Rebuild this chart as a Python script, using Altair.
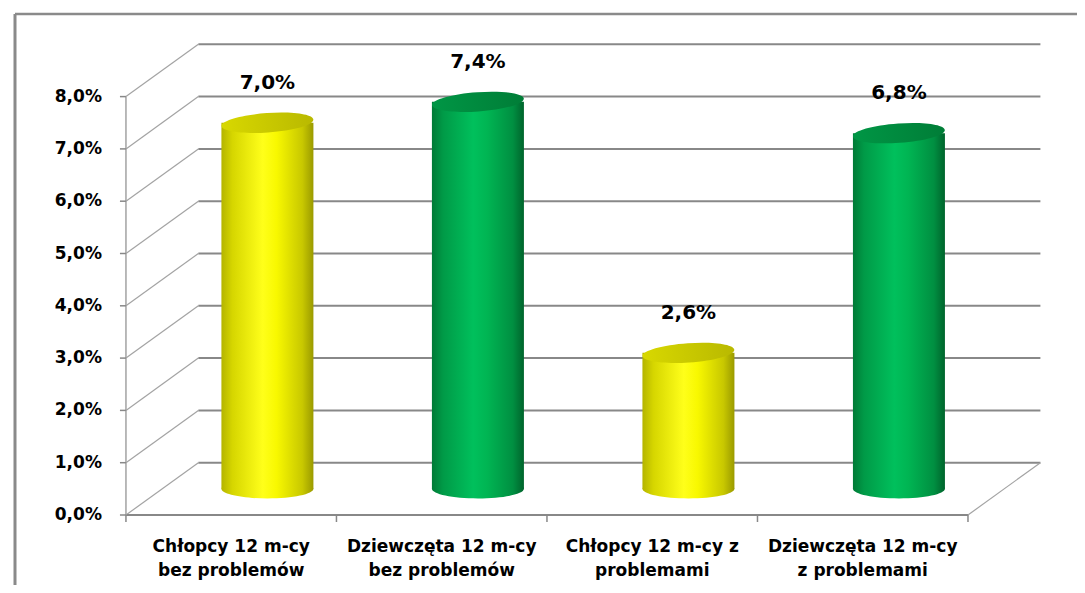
import altair as alt
import pandas as pd

# ---- data ----
label_line1 = ["Chłopcy 12 m-cy", "Dziewczęta 12 m-cy", "Chłopcy 12 m-cy z", "Dziewczęta 12 m-cy"]
label_line2 = ["bez problemów", "bez problemów", "problemami", "z problemami"]
values = [7.0, 7.4, 2.6, 6.8]
value_labels = ["7,0%", "7,4%", "2,6%", "6,8%"]
groups = ["Chłopcy", "Dziewczęta", "Chłopcy", "Dziewczęta"]
tick_values = [0, 1, 2, 3, 4, 5, 6, 7, 8]
tick_labels = ["0,0%", "1,0%", "2,0%", "3,0%", "4,0%", "5,0%", "6,0%", "7,0%", "8,0%"]

# ---- pseudo-3D projection settings ----
PX_PER_CAT = 212.5
PX_PER_PCT = 52.3
DEPTH_X = 0.344   # depth shift, in category units
DEPTH_Y = 1.0     # depth shift, in percent units
W, H = 1067, 571
X_MIN = -112 / PX_PER_CAT
Y_MAX = 501 / PX_PER_PCT
X_DOMAIN = [X_MIN, X_MIN + W / PX_PER_CAT]
Y_DOMAIN = [Y_MAX - H / PX_PER_PCT, Y_MAX]
CYL = 92          # cylinder diameter in px
FONT = "DejaVu Sans"

n = len(values)
ymax_tick = tick_values[-1]

xs = alt.Scale(domain=X_DOMAIN, nice=False, zero=False)
ys = alt.Scale(domain=Y_DOMAIN, nice=False, zero=False)


def X(f):
    return alt.X(f"{f}:Q", scale=xs, axis=None)


def Y(f):
    return alt.Y(f"{f}:Q", scale=ys, axis=None)


cats = pd.DataFrame({
    "i": list(range(n)),
    "value": values,
    "vlabel": value_labels,
    "group": groups,
    "xlabel": [a + "\n" + b for a, b in zip(label_line1, label_line2)],
})
cats["mid"] = cats["i"] + 0.5
cats["center"] = cats["mid"] + DEPTH_X / 2
cats["base"] = DEPTH_Y / 2
cats["top"] = cats["value"] + DEPTH_Y / 2
cats["zero"] = 0.0

ticks = pd.DataFrame({"t": tick_values, "label": tick_labels})
ticks["x0"] = 0.0
ticks["xb"] = DEPTH_X
ticks["tb"] = ticks["t"] + DEPTH_Y
ticks["xe"] = n + DEPTH_X

bounds = pd.DataFrame({"b": list(range(n + 1)), "y0": 0.0})

segs = pd.DataFrame({
    "x": [0, n, 0],
    "y": [0, 0, 0],
    "x2": [n, n + DEPTH_X, 0],
    "y2": [0, DEPTH_Y, ymax_tick],
    "kind": ["front", "floor", "yaxis"],
})

frame_top = pd.DataFrame({"x": [X_DOMAIN[0]], "x2": [X_DOMAIN[1]], "y": [Y_DOMAIN[1]]})
frame_left = pd.DataFrame({"x": [X_DOMAIN[0]], "y": [Y_DOMAIN[0]], "y2": [Y_DOMAIN[1]]})

ELLIPSE = "M-1,0A1,0.21,0,1,1,1,0A1,0.21,0,1,1,-1,0Z"


def grad(stops):
    return alt.Gradient(
        gradient="linear", x1=0, x2=1, y1=0, y2=0,
        stops=[alt.GradientStop(offset=o, color=c) for o, c in stops],
    )


body = {
    "Chłopcy": grad([(0, "#b4b400"), (0.12, "#d6d600"), (0.45, "#ffff1a"), (0.6, "#f8f800"), (0.88, "#c8c800"), (1, "#9a9a00")]),
    "Dziewczęta": grad([(0, "#007a36"), (0.12, "#009a47"), (0.45, "#00c05c"), (0.6, "#00b553"), (0.88, "#008f41"), (1, "#00642c")]),
}
topc = {
    "Chłopcy": grad([(0, "#d8d800"), (1, "#b9b900")]),
    "Dziewczęta": grad([(0, "#009645"), (1, "#007d37")]),
}

base = alt.Chart(cats)
layers = []

# frame (top and left border of the chart area)
layers.append(alt.Chart(frame_top).mark_rule(color="#8a8a8a", strokeWidth=2.5, x2Offset=12).encode(
    x=X("x"), y=Y("y"), x2="x2:Q", y2="y:Q"))
layers.append(alt.Chart(frame_left).mark_rule(color="#8a8a8a", strokeWidth=3).encode(
    x=X("x"), y=Y("y"), x2="x:Q", y2="y2:Q"))

# side wall diagonals
layers.append(alt.Chart(ticks).mark_rule(color="#a3a3a3", strokeWidth=1.2).encode(
    x=X("x0"), y=Y("t"), x2="xb:Q", y2="tb:Q"))
# back wall gridlines
layers.append(alt.Chart(ticks).mark_rule(color="#888888", strokeWidth=2).encode(
    x=X("xb"), y=Y("tb"), x2="xe:Q", y2="tb:Q"))
# floor / axes
layers.append(alt.Chart(segs).transform_filter(alt.datum.kind == "floor").mark_rule(
    color="#a3a3a3", strokeWidth=1.2).encode(x=X("x"), y=Y("y"), x2="x2:Q", y2="y2:Q"))
layers.append(alt.Chart(segs).transform_filter(alt.datum.kind == "front").mark_rule(
    color="#888888", strokeWidth=2).encode(x=X("x"), y=Y("y"), x2="x2:Q", y2="y2:Q"))
layers.append(alt.Chart(segs).transform_filter(alt.datum.kind == "yaxis").mark_rule(
    color="#a3a3a3", strokeWidth=1.5).encode(x=X("x"), y=Y("y"), x2="x2:Q", y2="y2:Q"))
# tick marks
layers.append(alt.Chart(ticks).mark_rule(color="#888888", strokeWidth=1.5, x2Offset=-6).encode(
    x=X("x0"), y=Y("t"), x2="x0:Q", y2="t:Q"))
layers.append(alt.Chart(bounds).mark_rule(color="#888888", strokeWidth=1.5, y2Offset=7).encode(
    x=X("b"), y=Y("y0"), x2="b:Q", y2="y0:Q"))

# axis labels
layers.append(alt.Chart(ticks).mark_text(
    font=FONT, fontSize=17, fontWeight="bold", align="right", baseline="middle", dx=-24, color="#000000"
).encode(x=X("x0"), y=Y("t"), text="label:N"))
layers.append(base.mark_text(
    font=FONT, fontSize=17, fontWeight="bold", align="center", baseline="top", dy=24,
    lineBreak="\n", lineHeight=24, color="#000000"
).encode(x=X("mid"), y=Y("zero"), text="xlabel:N"))

# cylinders
for g in ["Chłopcy", "Dziewczęta"]:
    sub = base.transform_filter(alt.datum.group == g)
    layers.append(sub.mark_point(shape=ELLIPSE, size=CYL * CYL, filled=True, fill=body[g],
                                 opacity=1, strokeWidth=0).encode(x=X("center"), y=Y("base")))
    layers.append(sub.mark_bar(size=CYL, fill=body[g]).encode(x=X("center"), y=Y("base"), y2="top:Q"))
    layers.append(sub.mark_point(shape=ELLIPSE, size=CYL * CYL, filled=True, fill=topc[g],
                                 opacity=1, strokeWidth=0, angle=356).encode(x=X("center"), y=Y("top")))

# value labels
layers.append(base.mark_text(
    font=FONT, fontSize=20, fontWeight="bold", align="center", baseline="middle", dy=-40, color="#000000"
).encode(x=X("center"), y=Y("top"), text="vlabel:N"))

chart = alt.layer(*layers).properties(
    width=W, height=H,
    autosize=alt.AutoSizeParams(type="none"),
    padding={"left": 2, "top": 6, "right": 0, "bottom": 0},
    background="#ffffff",
).configure_view(stroke=None)

chart.save("out.html", embed_options={"renderer": "svg", "actions": False})
